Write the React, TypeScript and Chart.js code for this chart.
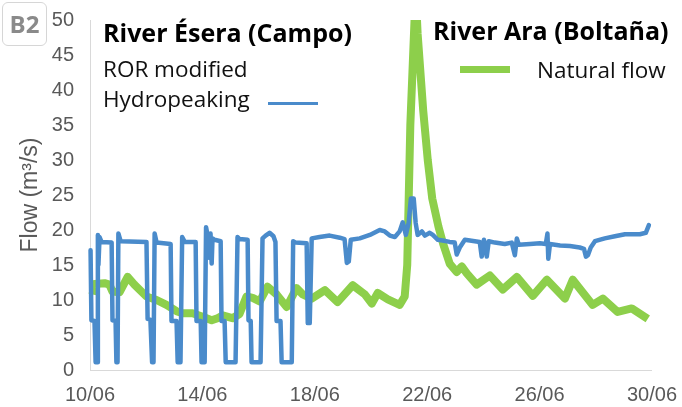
import React, { useEffect, useRef } from "react";
import { Chart, registerables } from "chart.js";

Chart.register(...registerables);

// x tick labels (every 4 days from 10/06)
const xTickLabels = ["10/06", "14/06", "18/06", "22/06", "26/06", "30/06"];

// River Ésera (Campo) – hydropeaking: time in days since 10/06, flow in m3/s
const hydroDays = [
  0.02, 0.05, 0.16, 0.2, 0.25, 0.28, 0.3, 0.34, 0.41, 0.77, 0.8, 0.91, 0.94, 0.98, 1.01, 1.09,
  2.01, 2.05, 2.15, 2.21, 2.26, 2.3, 2.37, 2.87, 2.9, 3.08, 3.12, 3.22, 3.28, 3.37, 3.76, 3.79,
  3.94, 3.97, 4.08, 4.13, 4.22, 4.26, 4.29, 4.33, 4.36, 4.43, 4.65, 4.68, 4.79, 4.83, 5.18, 5.25,
  5.32, 5.61, 5.64, 5.72, 5.75, 6.07, 6.14, 6.25, 6.39, 6.53, 6.6, 6.64, 6.78, 6.82, 7.18, 7.23,
  7.32, 7.71, 7.75, 7.82, 7.89, 8.17, 8.53, 8.89, 9.06, 9.14, 9.21, 9.28, 9.6, 9.96, 10.31, 10.49,
  10.67, 10.85, 11.02, 11.13, 11.24, 11.34, 11.42, 11.52, 11.59, 11.66, 11.81, 11.92, 12.09, 12.2,
  12.38, 12.55, 12.8, 12.98, 13.05, 13.16, 13.34, 13.52, 13.87, 13.94, 14.02, 14.12, 14.19, 14.41,
  14.76, 15.01, 15.12, 15.19, 15.26, 15.66, 16.01, 16.22, 16.28, 16.31, 16.37, 16.73, 17.08, 17.43,
  17.58, 17.65, 17.72, 17.82, 17.97, 18.32, 18.68, 19.04, 19.57, 19.78, 19.89,
];
const hydroFlow = [
  17.1, 7.1, 7.0, 1.1, 1.1, 19.3, 15.0, 19.0, 18.3, 18.2, 7.1, 7.0, 1.1, 1.1, 19.5, 18.4,
  18.3, 7.3, 7.2, 1.1, 1.1, 19.5, 18.2, 18.0, 7.0, 7.0, 1.1, 1.1, 19.0, 18.3, 18.3, 7.0,
  7.0, 1.1, 1.1, 20.4, 18.5, 16.0, 19.5, 15.2, 18.8, 18.6, 18.4, 7.0, 7.0, 1.1, 1.1, 19.0,
  18.7, 18.6, 7.1, 7.0, 1.1, 1.1, 18.8, 19.2, 19.6, 19.1, 18.3, 7.0, 7.0, 1.1, 1.1, 18.4,
  18.2, 18.1, 6.7, 6.7, 18.8, 19.0, 19.2, 18.9, 18.7, 15.3, 15.5, 18.6, 18.8, 19.3, 20.0, 19.8,
  19.2, 19.0, 19.8, 21.1, 19.3, 21.0, 24.5, 24.5, 21.0, 19.3, 19.8, 19.2, 19.6, 19.3,
  18.6, 18.5, 18.3, 18.2, 16.5, 17.5, 18.6, 18.5, 18.3, 16.2, 18.6, 16.2, 18.4, 18.2,
  18.0, 18.2, 16.4, 18.8, 17.9, 18.0, 18.1, 18.0, 19.5, 15.9, 18.0, 17.8, 17.7, 17.5,
  17.3, 16.2, 16.4, 17.5, 18.4, 18.8, 19.1, 19.4, 19.4, 19.6, 20.7,
];

// River Ara (Boltaña) – natural flow
const naturalDays = [
  0.09, 0.16, 0.52, 0.69, 0.8, 1.05, 1.34, 1.58, 2.01, 2.37, 2.72, 3.08, 3.29, 3.65, 4.01, 4.33,
  4.54, 4.72, 5.07, 5.32, 5.57, 5.79, 6.04, 6.32, 6.64, 7.0, 7.35, 7.57, 7.89, 8.36, 8.81, 9.35,
  9.78, 10.03, 10.24, 10.6, 11.02, 11.2, 11.29, 11.4, 11.59, 11.66, 11.86, 12.02, 12.18, 12.4,
  12.57, 12.8, 13.05, 13.23, 13.41, 13.76, 14.23, 14.69, 15.19, 15.76, 16.26, 16.9, 17.18, 17.89,
  18.25, 18.78, 19.28, 19.85,
];
const naturalFlow = [
  10.8, 12.3, 12.4, 12.2, 11.2, 11.1, 13.3, 12.2, 10.5, 10.0, 9.3, 8.4, 8.1, 8.1, 7.6, 7.1,
  7.4, 7.8, 7.4, 8.0, 10.5, 10.3, 9.8, 11.9, 10.8, 9.0, 11.7, 10.8, 10.2, 11.4, 9.7, 12.1,
  10.8, 9.5, 11.0, 10.1, 9.3, 10.5, 15.0, 35.0, 54.0, 48.0, 37.0, 30.0, 24.5, 20.5,
  18.0, 15.2, 14.0, 14.8, 13.8, 12.2, 13.5, 11.5, 13.3, 10.6, 12.9, 10.2, 12.9, 9.3,
  10.2, 8.3, 8.8, 7.3,
];

const BLUE = "#4a8bcb";
const GREEN = "#8dcf4b";
const AXIS_GRAY = "#595959";
const TICK_FONT = "'Liberation Sans', Arial, sans-serif";
const TEXT_FONT = "'Open Sans', 'Noto Sans', sans-serif";

export default function App() {
  const canvasRef = useRef<HTMLCanvasElement>(null);

  useEffect(() => {
    const canvas = canvasRef.current;
    if (!canvas) return;
    const chart = new Chart(canvas, {
      type: "line",
      data: {
        datasets: [
          {
            label: "Hydropeaking",
            data: hydroDays.map((d, i) => ({ x: d, y: hydroFlow[i] })),
            borderColor: BLUE,
            backgroundColor: BLUE,
            borderWidth: 4.5,
            pointRadius: 0,
            tension: 0,
            borderJoinStyle: "round",
            borderCapStyle: "round",
            clip: { left: 4, right: 6, top: 0, bottom: 6 },
          },
          {
            label: "Natural flow",
            data: naturalDays.map((d, i) => ({ x: d, y: naturalFlow[i] })),
            borderColor: GREEN,
            backgroundColor: GREEN,
            borderWidth: 8,
            pointRadius: 0,
            tension: 0,
            borderJoinStyle: "round",
            borderCapStyle: "butt",
            clip: { left: 6, right: 6, top: 0, bottom: 6 },
          },
        ],
      },
      options: {
        responsive: false,
        animation: false,
        devicePixelRatio: 1,
        layout: { padding: { top: 20, right: 30, left: 0, bottom: 0 } },
        plugins: {
          legend: { display: false },
          tooltip: { enabled: false },
          title: { display: false },
        },
        scales: {
          x: {
            type: "linear",
            min: 0,
            max: 20,
            grid: { display: false },
            border: { display: true, color: "#d9d9d9", width: 1 },
            ticks: {
              stepSize: 4,
              autoSkip: false,
              maxRotation: 0,
              color: AXIS_GRAY,
              padding: 5,
              font: { family: TICK_FONT, size: 20 },
              callback: (v: any) => xTickLabels[Math.round(Number(v) / 4)] ?? "",
            },
            afterFit: (s: any) => {
              s.height = 37;
            },
          },
          y: {
            min: 0,
            max: 50,
            grid: { display: false },
            border: { display: true, color: "#d9d9d9", width: 1 },
            ticks: {
              stepSize: 5,
              color: AXIS_GRAY,
              padding: 8,
              font: { family: TICK_FONT, size: 20 },
            },
            title: {
              display: true,
              text: "Flow (m³/s)",
              color: AXIS_GRAY,
              font: { family: TICK_FONT, size: 23 },
              padding: { top: 17, bottom: 0 },
            },
            afterFit: (s: any) => {
              s.width = 90;
            },
          },
        },
      },
    });
    return () => chart.destroy();
  }, []);

  const abs = (extra: React.CSSProperties): React.CSSProperties => ({
    position: "absolute",
    margin: 0,
    lineHeight: 1,
    whiteSpace: "nowrap",
    ...extra,
  });

  return (
    <div
      style={{
        position: "fixed",
        left: 0,
        top: 0,
        width: 682,
        height: 407,
        background: "#ffffff",
        overflow: "hidden",
      }}
    >
      <canvas ref={canvasRef} width={682} height={407} style={{ position: "absolute", left: 0, top: 0 }} />
      <div
        style={abs({
          left: 2,
          top: 2,
          width: 43,
          height: 42,
          border: "1px solid #d6d6d6",
          borderRadius: 6,
          display: "flex",
          alignItems: "center",
          justifyContent: "center",
          fontFamily: TEXT_FONT,
          fontWeight: 700,
          fontSize: 24,
          color: "#8a8a8a",
        })}
      >
        B2
      </div>
      <div style={abs({ left: 103, top: 20, fontFamily: TEXT_FONT, fontWeight: 700, fontSize: 25, color: "#000" })}>
        River Ésera (Campo)
      </div>
      <div style={abs({ left: 103, top: 58, fontFamily: TEXT_FONT, fontSize: 22.5, color: "#111" })}>ROR modified</div>
      <div style={abs({ left: 103, top: 88, fontFamily: TEXT_FONT, fontSize: 22.5, color: "#111" })}>Hydropeaking</div>
      <div style={abs({ left: 268, top: 102, width: 50, height: 3, background: BLUE })} />
      <div style={abs({ left: 433, top: 18, fontFamily: TEXT_FONT, fontWeight: 700, fontSize: 25, color: "#000" })}>
        River Ara (Boltaña)
      </div>
      <div style={abs({ left: 460, top: 66, width: 50, height: 7, background: GREEN })} />
      <div style={abs({ left: 537, top: 59, fontFamily: TEXT_FONT, fontSize: 22.5, color: "#111" })}>Natural flow</div>
    </div>
  );
}
